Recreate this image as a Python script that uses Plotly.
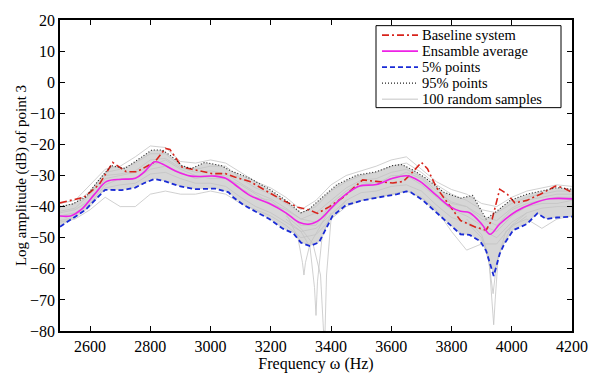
import plotly.graph_objects as go

# ---------------- data ----------------
base_f = [2500,2540,2580,2630,2675,2720,2755,2815,2850,2865,2905,2930,2960,3005,3050,3080,3130,3195,3240,3290,3325,3355,3395,3440,3480,3505,3550,3605,3640,3665,3700,3720,3750,3795,3830,3880,3915,3935,3960,3985,4010,4050,4095,4145,4170,4200]
base_v = [-38.8,-37.8,-37,-32.9,-25.8,-28.8,-28.8,-25.6,-21.3,-21.6,-27.3,-27.8,-28.4,-29.4,-29.4,-30.5,-31.9,-35.4,-38,-40.2,-41,-42.2,-40,-37,-33.4,-31.4,-31.9,-32.4,-31.9,-29.5,-25.8,-27.8,-33.9,-40,-44.5,-46.6,-47.6,-44,-34.4,-36,-38.8,-38,-36,-33.4,-33.9,-35.4]

mean_f = [2500,2535,2570,2615,2655,2705,2750,2780,2815,2840,2880,2935,3015,3050,3080,3130,3195,3250,3295,3330,3365,3405,3450,3495,3550,3605,3650,3665,3695,3750,3795,3830,3860,3900,3928,3960,4015,4070,4125,4200]
mean_v = [-43,-43,-41,-36,-31.9,-31.2,-30.9,-28.8,-25.6,-26.3,-28.4,-30.2,-30.2,-30.9,-32.9,-36.4,-39,-42,-45.1,-45.6,-44,-40,-36,-33.4,-32.9,-30.9,-30.1,-30.4,-31.9,-36.4,-40,-41.5,-42,-45.6,-48.9,-45.6,-41.5,-39,-37.5,-37.5]

p95_f = [2500,2540,2585,2625,2670,2715,2760,2805,2840,2870,2905,2935,2980,3035,3065,3130,3195,3250,3300,3325,3365,3420,3485,3550,3605,3635,3675,3715,3775,3830,3870,3915,3950,3995,4050,4095,4150,4200]
p95_v = [-40,-39.2,-37,-31.9,-26.8,-27.8,-24.8,-21.8,-21.8,-23.8,-26.8,-27.8,-25.8,-26.8,-28.4,-30.9,-34.4,-38,-42,-41,-37.5,-32.9,-29.9,-28.8,-26.8,-26.5,-28.4,-30.9,-35.4,-37.3,-36.4,-44,-41.5,-38,-36,-35,-33.9,-34.4]

p5_f = [2500,2540,2585,2615,2650,2705,2750,2780,2815,2850,2895,2950,3015,3060,3075,3110,3155,3195,3240,3275,3300,3330,3360,3375,3405,3450,3505,3560,3620,3650,3665,3705,3750,3795,3830,3860,3895,3915,3940,3960,3975,4005,4050,4085,4115,4150,4200]
p5_v = [-46.5,-44,-41,-38,-34.6,-34.7,-33.9,-32.4,-31.1,-31.9,-33.4,-34.4,-34.2,-35.4,-37,-39.5,-42,-44,-47.1,-48.6,-51.6,-52.7,-51.5,-48.6,-43,-39.5,-38,-37,-36,-35.1,-35.4,-38,-42,-46,-48.9,-49.1,-51.1,-54.2,-62.3,-55.2,-52,-47.6,-45.6,-42.2,-44,-43.5,-43.2]

grid_f = [2500,2550,2600,2650,2700,2750,2800,2850,2900,2950,3000,3050,3100,3150,3200,3250,3300,3350,3400,3450,3500,3550,3600,3650,3700,3750,3800,3850,3900,3950,4000,4050,4100,4150,4200]
sample_a = [-39,-38,-33,-28,-27,-24,-20.5,-21,-25.5,-26,-25,-26,-29,-32,-34,-37,-41,-38,-33,-30,-28.5,-27,-25,-24,-28,-32,-34.5,-36,-39,-40,-37,-35,-34,-33,-33.5]
sample_b = [-41.5,-40.5,-36,-30,-29.5,-28.5,-25,-24.5,-27.5,-29,-28.5,-29.5,-32.5,-35.5,-37.5,-40.5,-44,-42,-38,-34,-31.5,-31,-29,-28,-30.5,-35,-38.5,-40,-43,-44.5,-40.5,-38,-37,-36,-36]
sample_c = [-44.5,-43.5,-40,-34,-33,-32.5,-29.5,-29,-31,-32.5,-32.5,-33.5,-37,-40,-42,-45,-48,-47,-42.5,-38,-35.5,-35,-33.5,-33,-35,-39.5,-43.5,-45,-47.5,-50,-45,-42,-40.5,-40,-40]
sample_d = [-45,-44,-41,-37,-40,-40,-36,-35,-36,-36,-35,-36,-39,-41,-43,-46,-50,-49,-44,-40,-38,-37,-36,-35,-37,-41,-48,-54,-52,-52,-46,-44,-47,-44,-43]
sample_e = [-42,-41,-38,-31,-30,-29,-27,-25,-28,-30,-31,-31,-33,-36,-39,-41,-44,-45,-41,-36,-33,-32,-31,-29,-31,-36,-39,-40,-44,-46,-41,-39,-38,-37,-37]
sample_f = [-43,-42,-39,-33,-31,-31,-28,-27,-29,-31,-30,-30,-34,-37,-38,-42,-46,-46,-39,-35,-32,-33,-30,-30,-33,-37,-41,-43,-46,-48,-43,-40,-39,-39,-38]
sample_g = [-40,-39,-35,-29,-28,-26,-23,-23,-27,-28,-27,-27,-31,-34,-36,-39,-42,-40,-35,-32,-30,-29,-27,-26,-29,-33,-36,-38,-41,-42,-39,-37,-36,-35,-35]

dip1_f = [3250,3300,3340,3365,3375,3380,3385,3400,3450]
dip1_v = [-43,-47,-52,-62,-80,-80,-62,-44,-38]
dip2_f = [3250,3300,3330,3345,3350,3355,3370,3400]
dip2_v = [-44,-48,-53,-66,-75,-64,-50,-42]
dip3_f = [3250,3290,3305,3310,3315,3330,3360,3400]
dip3_v = [-42,-50,-58,-62,-58,-52,-47,-40]
dip4_f = [3850,3900,3925,3935,3940,3945,3955,4000,4050]
dip4_v = [-45,-50,-58,-70,-78,-70,-56,-46,-42]
dip5_f = [3850,3900,3920,3930,3938,3950,3980,4050]
dip5_v = [-44,-49,-55,-63,-68,-58,-48,-43]

x_ticks = [2600,2800,3000,3200,3400,3600,3800,4000,4200]
y_ticks = [20,10,0,-10,-20,-30,-40,-50,-60,-70,-80]
legend_labels = ["Baseline system", "Ensamble average", "5% points", "95% points", "100 random samples"]

# ---------------- styles ----------------
SERIF = "Liberation Serif, Times New Roman, serif"
GRAY = "#c4c4c4"
RED = "#d8231b"
MAG = "#ee22e6"
BLUE = "#1a2bd6"
BLK = "#222222"
styles = [
    dict(color=RED, width=1.6, dash="7px,3px,2px,3px"),
    dict(color=MAG, width=1.6),
    dict(color=BLUE, width=1.8, dash="5px,3px"),
    dict(color=BLK, width=1.1, dash="1px,2px"),
    dict(color=GRAY, width=1),
]

W, H = 602, 378
ML, MR, MT, MB = 60, 30, 12, 36
PW, PH = W - ML - MR, H - MT - MB

def xp(px):
    return (px - ML) / PW

def yp(py):
    return (H - MB - py) / PH

fig = go.Figure()

# dense gray band formed by the random samples
fig.add_trace(go.Scatter(x=p95_f + p5_f[::-1], y=p95_v + p5_v[::-1], fill="toself",
                         fillcolor="rgba(200,200,200,0.75)", line=dict(width=0),
                         hoverinfo="skip", showlegend=False))
for s in [sample_a, sample_b, sample_c, sample_d, sample_e, sample_f, sample_g]:
    fig.add_trace(go.Scatter(x=grid_f, y=s, mode="lines", line=dict(color=GRAY, width=0.8),
                             showlegend=False, hoverinfo="skip", name=legend_labels[4]))
for df, dv in [(dip1_f, dip1_v), (dip2_f, dip2_v), (dip3_f, dip3_v), (dip4_f, dip4_v), (dip5_f, dip5_v)]:
    fig.add_trace(go.Scatter(x=df, y=dv, mode="lines", line=dict(color=GRAY, width=0.8),
                             showlegend=False, hoverinfo="skip", name=legend_labels[4]))

fig.add_trace(go.Scatter(x=base_f, y=base_v, mode="lines", name=legend_labels[0],
                         line=styles[0], showlegend=False))
fig.add_trace(go.Scatter(x=mean_f, y=mean_v, mode="lines", name=legend_labels[1],
                         line=styles[1], line_shape="spline", showlegend=False))
fig.add_trace(go.Scatter(x=p5_f, y=p5_v, mode="lines", name=legend_labels[2],
                         line=styles[2], showlegend=False))
fig.add_trace(go.Scatter(x=p95_f, y=p95_v, mode="lines", name=legend_labels[3],
                         line=styles[3], showlegend=False))

# legend box drawn in paper coordinates (MATLAB-style compact legend)
shapes = [dict(type="rect", xref="paper", yref="paper", x0=xp(376), x1=xp(561), y0=yp(105), y1=yp(18),
               line=dict(color="black", width=1), fillcolor="white", layer="above")]
annotations = []
row_y = [28, 45, 62, 79, 96]
for lab, st, ry in zip(legend_labels, styles, row_y):
    shapes.append(dict(type="line", xref="paper", yref="paper", x0=xp(382), x1=xp(418),
                       y0=yp(ry), y1=yp(ry), line=st, layer="above"))
    annotations.append(dict(xref="paper", yref="paper", x=xp(421), y=yp(ry), text=lab,
                            showarrow=False, xanchor="left", yanchor="middle", borderpad=0,
                            font=dict(family=SERIF, size=14.5, color="black")))

axis_common = dict(showline=True, linecolor="black", linewidth=1.5, mirror="ticks",
                   ticks="inside", ticklen=5, tickcolor="black", tickwidth=1,
                   showgrid=False, zeroline=False,
                   tickfont=dict(family=SERIF, size=16, color="black"))

fig.update_layout(
    width=W, height=H,
    margin=dict(l=ML, r=MR, t=MT, b=MB),
    paper_bgcolor="white", plot_bgcolor="white",
    font=dict(family=SERIF, size=16, color="black"),
    xaxis=dict(range=[2500, 4200], tickvals=x_ticks, **axis_common,
               title=dict(text="Frequency ω (Hz)", font=dict(family=SERIF, size=16), standoff=0)),
    yaxis=dict(range=[-80, 20], tickvals=y_ticks, **axis_common,
               title=dict(text="Log amplitude (dB) of point 3", font=dict(family=SERIF, size=15), standoff=0)),
    shapes=shapes,
    annotations=annotations,
    showlegend=False,
)

fig.write_html("out.html")
